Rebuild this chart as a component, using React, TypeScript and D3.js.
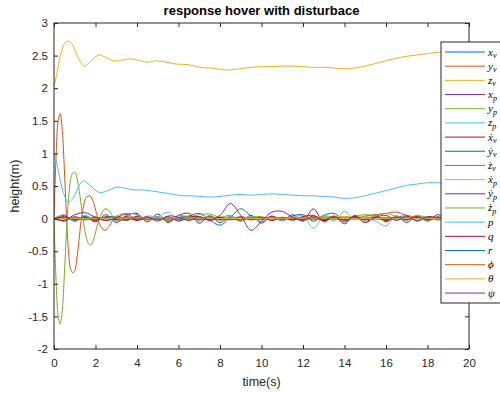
import { useRef, useEffect } from 'react';
import * as d3 from 'd3';

const X_TICKS = [0, 2, 4, 6, 8, 10, 12, 14, 16, 18, 20];
const Y_TICKS = [-2, -1.5, -1, -0.5, 0, 0.5, 1, 1.5, 2, 2.5, 3];

const T_HALF = [0, 0.5, 1, 1.5, 2, 2.5, 3, 3.5, 4, 4.5, 5, 5.5, 6, 6.5, 7, 7.5, 8, 8.5, 9, 9.5, 10,
  10.5, 11, 11.5, 12, 12.5, 13, 13.5, 14, 14.5, 15, 15.5, 16, 16.5, 17, 17.5, 18, 18.5, 19, 19.5, 20];
const T_FLAT = [0, 2, 4, 6, 8, 10, 12, 14, 16, 18, 20];

// transient channels
const T_ZV = [0, 0.15, 0.35, 0.55, 0.72, 0.9, 1.15, 1.46, 1.8, 2.17, 2.5, 2.86, 3.25, 3.66, 4.05, 4.47, 4.95, 5.4, 5.9, 6.5,
  7, 7.5, 8, 8.5, 9, 9.5, 10, 10.5, 11, 11.5, 12, 12.5, 13, 13.5, 14, 14.5, 15, 15.5, 16, 16.5, 17, 17.5, 18, 18.5, 19, 19.5, 20];
const V_ZV = [2.01, 2.25, 2.55, 2.70, 2.72, 2.66, 2.48, 2.34, 2.42, 2.51, 2.47, 2.42, 2.43, 2.45, 2.43, 2.40, 2.42, 2.40, 2.37, 2.36,
  2.32, 2.31, 2.29, 2.28, 2.30, 2.32, 2.33, 2.33, 2.34, 2.34, 2.33, 2.32, 2.32, 2.31, 2.30, 2.31, 2.34, 2.38, 2.42, 2.46, 2.49, 2.51, 2.53, 2.55, 2.56, 2.56, 2.56];

const T_ZP = [0, 0.1, 0.2, 0.45, 0.69, 0.95, 1.2, 1.41, 1.7, 2.18, 2.6, 3, 3.4, 3.8, 4.2, 4.6, 5, 5.4, 5.8, 6.2, 6.6,
  7, 7.5, 8, 8.5, 9, 9.5, 10, 10.5, 11, 11.5, 12, 12.5, 13, 13.5, 14, 14.5, 15, 15.5, 16, 16.5, 17, 17.5, 18, 18.5, 19, 19.5, 20];
const V_ZP = [1.0, 0.9, 0.75, 0.4, 0.25, 0.33, 0.50, 0.58, 0.52, 0.40, 0.43, 0.48, 0.47, 0.44, 0.44, 0.43, 0.41, 0.39, 0.37, 0.35, 0.35,
  0.34, 0.33, 0.34, 0.36, 0.37, 0.36, 0.37, 0.38, 0.37, 0.36, 0.35, 0.35, 0.34, 0.33, 0.31, 0.32, 0.35, 0.39, 0.43, 0.47, 0.51, 0.53, 0.55, 0.55, 0.55, 0.55, 0.55];

const T_YV = [0, 0.1, 0.2, 0.3, 0.4, 0.5, 0.6, 0.7, 0.8, 0.9, 1.0, 1.1, 1.2, 1.3, 1.4, 1.55, 1.73, 1.9, 2.05, 2.25, 2.46, 2.65, 2.85, 3.05,
  3.4, 4, 6, 8, 10, 12, 14, 16, 18, 20];
const V_YV = [0, 0.95, 1.5, 1.61, 1.35, 0.75, 0.05, -0.5, -0.78, -0.83, -0.8, -0.62, -0.35, -0.05, 0.15, 0.32, 0.35, 0.25, 0.08, -0.12, -0.18, -0.12, -0.02, 0.03,
  0.01, -0.01, 0.01, 0, -0.01, 0.01, 0, 0.01, 0, 0];

const T_YP = [0, 0.1, 0.2, 0.29, 0.4, 0.5, 0.6, 0.7, 0.8, 0.9, 1.01, 1.12, 1.25, 1.4, 1.55, 1.7, 1.78, 1.9, 2.05, 2.25, 2.46, 2.65, 2.85, 3.05,
  3.4, 4, 6, 8, 10, 12, 14, 16, 18, 20];
const V_YP = [0, -0.95, -1.5, -1.62, -1.4, -0.85, -0.2, 0.3, 0.6, 0.7, 0.71, 0.6, 0.35, 0.0, -0.28, -0.4, -0.4, -0.33, -0.15, 0.05, 0.15, 0.12, 0.03, -0.03,
  -0.02, 0.01, 0, 0.01, 0, -0.01, 0, 0.01, 0, 0];

// near-zero channels
const V_XV = [0, 0.01, -0.01, 0.01, 0, 0.01, 0, -0.01, 0.01, 0, 0];
const V_XP = [0, -0.01, 0.01, 0, -0.01, 0.01, 0, 0.01, -0.01, 0, 0];
const V_XDP = [0, 0.01, 0.02, 0.01, 0.02, 0.01, 0.02, 0.03, 0.02, 0.01, 0];
const V_R = [0, 0, 0.01, 0, -0.01, 0, 0.01, 0, 0, 0.01, 0];
const V_PHI = [0, 0.01, 0, -0.01, 0, 0.01, 0, 0, 0.01, 0, 0];
const V_THETA = [0, 0, 0.01, 0.01, 0, 0, 0.01, 0, 0, 0, 0];

// wiggly channels, sampled every 0.5 s
const V_XDV = [0, 0.05, -0.04, 0.03, -0.05, 0.06, -0.06, 0.05, 0.08, -0.05, 0.07, -0.06, 0.05, 0.08, -0.07, 0.04, -0.06, 0.03, -0.04, 0.05, -0.07,
  0.04, -0.03, 0.06, -0.04, 0.15, -0.05, 0.04, -0.08, 0.05, -0.06, 0.06, -0.05, 0.04, -0.06, 0.05, -0.04, 0.06, -0.03, 0.04, 0.02];
const V_YDV = [0, 0.02, -0.03, 0.04, -0.02, 0.03, 0.02, -0.03, 0.04, -0.02, 0.03, -0.04, 0.02, 0.04, 0.08, -0.02, -0.10, 0.02, 0.15, 0.04, -0.05,
  0.02, -0.03, 0.04, 0.06, -0.04, 0.05, 0.08, -0.03, 0.02, -0.02, 0.03, -0.02, 0.02, 0.04, -0.03, 0.02, -0.02, 0.02, 0.01, 0.01];
const V_ZDV = [0, 0.02, -0.02, 0.01, -0.01, 0.02, -0.01, 0.01, 0.02, -0.01, 0.01, 0.02, -0.01, 0.01, -0.02, 0.02, 0.01, -0.01, 0.02, 0.01, -0.01,
  0.02, 0.01, -0.02, 0.01, 0.02, -0.01, 0.02, 0.03, 0.01, 0.04, 0.06, 0.08, 0.10, 0.05, 0.02, -0.01, 0.02, 0.01, 0, 0];
const V_YDP = [0, -0.04, 0.03, -0.02, 0.02, -0.03, 0.02, -0.02, 0.03, -0.01, 0.02, -0.03, 0.01, 0.02, -0.02, 0.03, -0.02, 0.01, -0.03, 0.02, -0.01,
  0.03, -0.02, 0.01, -0.02, 0.02, -0.03, 0.02, -0.01, 0.02, -0.02, 0.01, -0.02, 0.02, -0.01, 0.02, -0.02, 0.01, -0.01, 0.01, 0];
const V_ZDP = [0, -0.03, 0.02, -0.02, 0.03, -0.03, 0.04, 0.08, 0.06, -0.02, 0.03, -0.04, 0.05, 0.03, 0.06, 0.07, 0.02, 0.05, -0.03, 0.02, 0.03,
  -0.02, 0.02, -0.03, 0.03, -0.02, 0.04, 0.02, -0.02, 0.04, 0.06, 0.05, 0.08, 0.03, -0.02, 0.04, 0.02, -0.02, 0.02, 0.01, 0.01];
const V_P = [0, 0.06, -0.04, 0.05, -0.03, 0.02, -0.04, 0.03, -0.02, 0.04, 0.03, 0.10, -0.03, 0.02, -0.04, 0.05, -0.03, 0.04, -0.02, 0.03, -0.05,
  0.02, -0.03, 0.02, 0.04, -0.15, 0.03, -0.04, 0.11, -0.02, 0.03, -0.04, -0.11, 0.04, -0.03, 0.05, -0.04, 0.03, -0.02, 0.02, 0.01];
const V_Q = [0, 0.03, -0.02, 0.02, -0.03, 0.02, -0.02, 0.03, -0.03, 0.02, -0.02, 0.03, -0.04, 0.02, 0.03, -0.03, 0.02, -0.02, 0.03, -0.02, 0.02,
  -0.03, 0.02, -0.02, 0.03, 0.05, -0.03, 0.02, -0.02, 0.03, -0.02, 0.02, -0.03, 0.02, -0.02, 0.03, -0.02, 0.02, -0.01, 0.01, 0];
const V_PSI = [0, -0.03, 0.06, 0.09, 0.02, -0.03, 0.01, 0.07, -0.02, 0.03, -0.04, 0.04, 0.02, -0.03, 0.03, -0.02, 0.05, 0.23, 0.05, -0.18, -0.04,
  0.10, 0.11, 0.02, -0.03, 0.04, -0.02, 0.03, -0.05, 0.04, -0.06, 0.02, 0.05, -0.03, 0.04, -0.04, 0.03, 0.02, 0.01, 0.02, 0.01];

const LEGEND_BASE = ['x', 'y', 'z', 'x', 'y', 'z', 'ẋ', 'ẏ', 'ż', 'ẋ', 'ẏ', 'ż', 'p', 'q', 'r', 'ϕ', 'θ', 'ψ'];
const LEGEND_SUB = ['v', 'v', 'v', 'p', 'p', 'p', 'v', 'v', 'v', 'p', 'p', 'p', '', '', '', '', '', ''];
const COLORS = ['#0072BD', '#D95319', '#EDB120', '#7E2F8E', '#77AC30', '#4DBEEE', '#A2142F',
  '#0072BD', '#D95319', '#EDB120', '#7E2F8E', '#77AC30', '#4DBEEE', '#A2142F',
  '#0072BD', '#D95319', '#EDB120', '#7E2F8E'];

const SERIES = [
  [T_FLAT, V_XV], [T_YV, V_YV], [T_ZV, V_ZV], [T_FLAT, V_XP], [T_YP, V_YP], [T_ZP, V_ZP],
  [T_HALF, V_XDV], [T_HALF, V_YDV], [T_HALF, V_ZDV], [T_FLAT, V_XDP], [T_HALF, V_YDP], [T_HALF, V_ZDP],
  [T_HALF, V_P], [T_HALF, V_Q], [T_FLAT, V_R], [T_FLAT, V_PHI], [T_FLAT, V_THETA], [T_HALF, V_PSI],
];

export default function App() {
  const ref = useRef<SVGSVGElement>(null);

  useEffect(() => {
    const svg = d3.select(ref.current);
    svg.selectAll('*').remove();

    const L = 54, R = 469, T = 23, B = 349;
    const ax = '#262626';
    const sans = '"Liberation Sans", Arial, Helvetica, sans-serif';

    const x = d3.scaleLinear().domain([0, 20]).range([L, R]);
    const y = d3.scaleLinear().domain([-2, 3]).range([B, T]);

    svg.append('rect').attr('width', 500).attr('height', 393).attr('fill', '#fff');

    svg.append('clipPath').attr('id', 'plotclip')
      .append('rect').attr('x', L).attr('y', T).attr('width', R - L).attr('height', B - T);

    // data lines
    const line = d3.line<[number, number]>()
      .x(d => x(d[0])).y(d => y(d[1]))
      .curve(d3.curveCatmullRom.alpha(0.5));
    const lg = svg.append('g').attr('clip-path', 'url(#plotclip)');
    SERIES.forEach(([ts, vs], i) => {
      const pts = ts.map((t, k) => [t, vs[k]] as [number, number]);
      lg.append('path').attr('d', line(pts))
        .attr('fill', 'none').attr('stroke', COLORS[i]).attr('stroke-width', 1);
    });

    const styleAxis = (s: any) => {
      s.select('.domain').remove();
      s.selectAll('line').attr('stroke', ax).attr('stroke-width', 1);
      s.selectAll('text').attr('fill', ax).style('font-family', sans).style('font-size', '11.5px');
    };

    svg.append('g').attr('transform', `translate(0,${B})`)
      .call(d3.axisBottom(x).tickValues(X_TICKS).tickSize(-4).tickPadding(10).tickFormat(d => String(d)))
      .call(styleAxis);
    svg.append('g').attr('transform', `translate(0,${T})`)
      .call(d3.axisTop(x).tickValues(X_TICKS).tickSize(-4).tickFormat(() => ''))
      .call(styleAxis);
    svg.append('g').attr('transform', `translate(${L},0)`)
      .call(d3.axisLeft(y).tickValues(Y_TICKS).tickSize(-4).tickPadding(6).tickFormat(d => String(d)))
      .call(styleAxis);
    svg.append('g').attr('transform', `translate(${R},0)`)
      .call(d3.axisRight(y).tickValues(Y_TICKS).tickSize(-4).tickFormat(() => ''))
      .call(styleAxis);

    svg.append('rect')
      .attr('x', L).attr('y', T).attr('width', R - L).attr('height', B - T)
      .attr('fill', 'none').attr('stroke', ax).attr('stroke-width', 1);

    // labels
    svg.append('text').attr('x', (L + R) / 2).attr('y', 15)
      .attr('text-anchor', 'middle').attr('fill', '#000')
      .style('font-family', sans).style('font-size', '13px').style('font-weight', 'bold')
      .text('response hover with disturbace');
    svg.append('text').attr('x', (L + R) / 2).attr('y', 386)
      .attr('text-anchor', 'middle').attr('fill', ax)
      .style('font-family', sans).style('font-size', '12.5px')
      .text('time(s)');
    svg.append('text')
      .attr('transform', `translate(19,${(T + B) / 2}) rotate(-90)`)
      .attr('text-anchor', 'middle').attr('fill', ax)
      .style('font-family', sans).style('font-size', '12.5px')
      .text('height(m)');

    // legend
    const legY0 = 52, legStep = 14.18;
    const leg = svg.append('g');
    leg.append('rect').attr('x', 441).attr('y', 42).attr('width', 70).attr('height', 261)
      .attr('fill', '#fff').attr('stroke', ax).attr('stroke-width', 1);
    LEGEND_BASE.forEach((b, i) => {
      const yy = legY0 + i * legStep;
      leg.append('line').attr('x1', 445).attr('x2', 485).attr('y1', yy).attr('y2', yy)
        .attr('stroke', COLORS[i]).attr('stroke-width', 1);
      const t = leg.append('text').attr('x', 488).attr('y', yy + 3.5)
        .attr('fill', '#000')
        .style('font-family', '"Liberation Serif", "DejaVu Serif", serif')
        .style('font-style', 'italic').style('font-size', '11px');
      t.append('tspan').text(b);
      if (LEGEND_SUB[i]) t.append('tspan').attr('dy', 2.5).style('font-size', '8px').text(LEGEND_SUB[i]);
    });
  }, []);

  return <svg ref={ref} width={500} height={393} style={{ position: 'absolute', left: 0, top: 0 }} />;
}
